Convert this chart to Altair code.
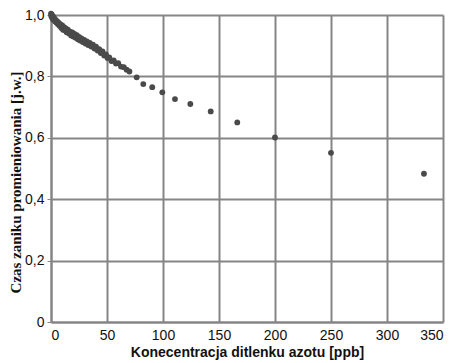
import altair as alt
import pandas as pd

# NO2 concentration [ppb]
conc = [0, 0.3, 0.6, 1.0, 1.4, 1.8, 2.2, 2.7, 3.2, 3.8, 4.3, 5.0, 5.6, 6.3, 7.0,
        7.8, 8.5, 9.3, 10.0, 10.8, 11.6, 12.4, 13.2, 14.0, 15.0, 16.0, 17.0, 18.0,
        19.0, 20.0, 21.0, 22.0, 23.0, 24.0, 25.0, 26.0, 27.2, 28.4, 29.6, 30.8,
        32.0, 33.3, 34.6, 36.0, 37.4, 38.8, 40.2, 41.6, 43.0, 44.5, 46.0, 47.5,
        49.0, 50.5, 52.0, 54.0, 56.0, 58.0, 60.0, 62.5, 65.0, 67.5, 70.0,
        76.5, 82.4, 90.4, 99.4, 110.7, 124.4, 142.6, 166.3, 200.0, 250.0, 333.0]
# normalised luminescence decay time [j.w.]
decay = [1.004, 0.996, 1.002, 0.991, 0.997, 0.986, 0.993, 0.984, 0.988, 0.979,
         0.983, 0.975, 0.979, 0.970, 0.974, 0.964, 0.969, 0.958, 0.966, 0.952,
         0.960, 0.950, 0.956, 0.944, 0.952, 0.940, 0.946, 0.933, 0.943, 0.930,
         0.938, 0.926, 0.934, 0.921, 0.929, 0.917, 0.924, 0.912, 0.919, 0.907,
         0.914, 0.902, 0.909, 0.897, 0.903, 0.891, 0.897, 0.884, 0.889, 0.876,
         0.881, 0.868, 0.872, 0.860, 0.862, 0.850, 0.852, 0.842, 0.843, 0.832,
         0.830, 0.822, 0.816,
         0.797, 0.775, 0.765, 0.748, 0.726, 0.710, 0.686, 0.650, 0.601, 0.551, 0.483]

x_ticks = [0, 50, 100, 150, 200, 250, 300, 350]
y_ticks = [0, 0.2, 0.4, 0.6, 0.8, 1.0]

df = pd.DataFrame({"c": conc, "t": decay})

grid_col = "#858585"

chart = alt.Chart(df).mark_circle(size=34, color="#4a4a4a", opacity=1).encode(
    x=alt.X("c:Q",
            scale=alt.Scale(domain=[0, 350], nice=False),
            axis=alt.Axis(values=x_ticks, title="Konecentracja ditlenku azotu [ppb]",
                          grid=True, gridColor=grid_col, gridWidth=2,
                          domainColor=grid_col, domainWidth=2, ticks=False,
                          labelPadding=6, labelFontSize=14, labelFont="Liberation Sans",
                          labelColor="#111", titleFont="Liberation Sans", titleFontSize=14,
                          titleFontWeight="bold", titleColor="#111",
                          titleY=34, titleBaseline="alphabetic")),
    y=alt.Y("t:Q",
            scale=alt.Scale(domain=[0, 1], nice=False),
            axis=alt.Axis(values=y_ticks, title="Czas zaniku promieniowania [j.w.]",
                          labelExpr="datum.value == 0 ? '0' : replace(format(datum.value, '.1f'), '.', ',')",
                          grid=True, gridColor=grid_col, gridWidth=2,
                          domainColor=grid_col, domainWidth=2, tickColor=grid_col,
                          tickSize=4, labelPadding=3, labelFontSize=14,
                          labelFont="Liberation Sans", labelColor="#111",
                          titleFont="Liberation Serif", titleFontSize=15,
                          titleFontWeight="bold", titleColor="#111",
                          titleX=-31, titleY=167, titleAlign="center",
                          titleBaseline="alphabetic", titleAngle=270)),
).properties(
    width=392, height=307,
    autosize=alt.AutoSizeParams(type="none"),
    padding={"left": 43, "top": 7, "right": 4, "bottom": 40},
).configure_view(stroke=None).configure(background="white")

chart.save("out.html", embed_options={"renderer": "svg", "actions": False})
